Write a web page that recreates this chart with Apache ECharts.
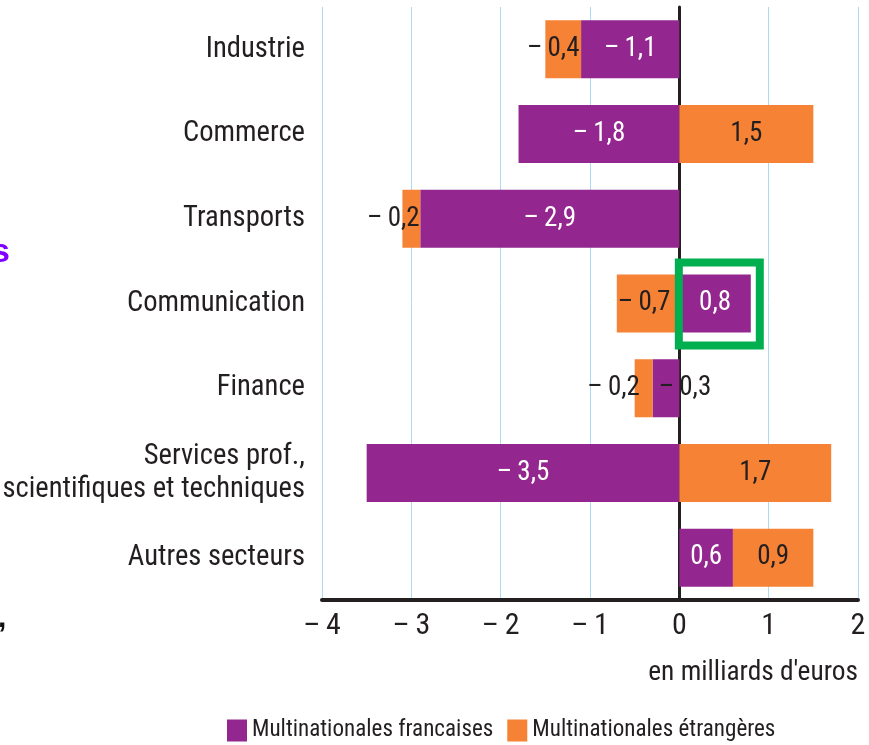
<!DOCTYPE html>
<html><head><meta charset="utf-8">
<script src="https://cdn.jsdelivr.net/npm/echarts@6/dist/echarts.min.js"></script>
<style>html,body{margin:0;padding:0;background:#fff}#c{width:869px;height:745px}</style>
</head><body><div id="c"></div>
<script>
// ---- data ----
const categories = ['Industrie', 'Commerce', 'Transports', 'Communication', 'Finance',
  'Services prof.,\nscientifiques et techniques', 'Autres secteurs'];
const francaises = [-1.1, -1.8, -2.9, 0.8, -0.3, -3.5, 0.6];
const etrangeres = [-0.4, 1.5, -0.2, -0.7, -0.2, 1.7, 0.9];
const xTicks = [-4, -3, -2, -1, 0, 1, 2];
const seriesNames = ['Multinationales francaises', 'Multinationales étrangères'];
const axisUnit = "en milliards d'euros";
const highlighted = 'Communication';

// ---- font selection (pick the narrowest installed family) ----
const ctx = document.createElement('canvas').getContext('2d');
function hasFont(f) {
  const t = 'abcdefghijklmnopqrstuvwxyz0123456789ABCDEFG';
  ctx.font = '72px monospace'; const a = ctx.measureText(t).width;
  ctx.font = '72px "' + f + '", monospace'; const b = ctx.measureText(t).width;
  ctx.font = '72px serif'; const a2 = ctx.measureText(t).width;
  ctx.font = '72px "' + f + '", serif'; const b2 = ctx.measureText(t).width;
  return a !== b || a2 !== b2;
}
const candidates = ['Noto Sans ExtraCondensed', 'Roboto Condensed', 'Noto Sans Condensed',
  'Open Sans Condensed', 'Liberation Sans Narrow', 'Arial Narrow', 'DejaVu Sans Condensed', 'Liberation Sans'];
const fam = candidates.find(hasFont) || 'sans-serif';
const FONT = '"' + fam + '", sans-serif';
function fit(text, target) {
  ctx.font = '100px ' + FONT;
  return Math.round(100 * target / ctx.measureText(text).width * 10) / 10;
}
const catSize = Math.min(31, fit('Communication', 178));
const tickSize = Math.min(30, fit('\u2013\u2009' + '4', 35) * 1.15);
const barSize = Math.min(28, fit('0,8', 32));
const legSize = Math.min(27, fit(seriesNames[0], 241));
const unitSize = Math.min(31, fit(axisUnit, 210));

// ---- styles ----
const DARK = '#231f20';
const PURPLE = '#93278f';
const ORANGE = '#f58235';
const GREEN = '#00b050';
const MINUS = '\u2013\u2009';

function fr(v) {
  const s = Math.abs(v).toFixed(1).replace('.', ',');
  return v < 0 ? MINUS + s : s;
}
// label tweaks per category index (styling only)
const frLabelTweak = { 4: { color: DARK, offset: [19, 0] } };
const etLabelTweak = { 0: { offset: [-10, 0] }, 2: { offset: [-18, 0] }, 3: { offset: [-4, 0] }, 4: { offset: [-30, 0] } };
function build(values, tweaks) {
  return values.map((v, i) => tweaks[i] ? { value: v, label: tweaks[i] } : v);
}

const chart = echarts.init(document.getElementById('c'), null, { renderer: 'canvas' });
chart.setOption({
  animation: false,
  backgroundColor: '#fff',
  textStyle: { fontFamily: FONT },
  grid: { left: 322, right: 11, top: 7, bottom: 145, containLabel: false, outerBoundsMode: 'none' },
  title: {
    text: axisUnit, right: 6, top: 672 - unitSize * 0.62,
    textStyle: { fontFamily: FONT, fontSize: unitSize, fontWeight: 'normal', color: DARK }
  },
  legend: {
    data: seriesNames, left: 222, top: 714, icon: 'rect', orient: 'horizontal',
    itemWidth: 20, itemHeight: 22, itemGap: 14, width: 640,
    textStyle: { fontFamily: FONT, fontSize: legSize, color: DARK }
  },
  xAxis: {
    type: 'value', min: xTicks[0], max: xTicks[xTicks.length - 1], interval: 1,
    axisLine: { show: true, lineStyle: { color: DARK, width: 4 } },
    axisTick: { show: false },
    splitLine: { show: true, lineStyle: { color: '#b0daf2', width: 1 } },
    axisLabel: {
      fontFamily: FONT, fontSize: tickSize, color: DARK, margin: 11,
      formatter: v => v < 0 ? MINUS + Math.abs(v) : String(v)
    }
  },
  yAxis: {
    type: 'category', data: categories, inverse: true,
    axisLine: { show: true, onZero: true, lineStyle: { color: DARK, width: 3 } },
    axisTick: { show: false },
    splitLine: { show: false },
    axisLabel: { fontFamily: FONT, fontSize: catSize, color: DARK, margin: 17, lineHeight: 33 }
  },
  series: [
    {
      name: seriesNames[0], type: 'bar', stack: 'total', barWidth: 58,
      itemStyle: { color: PURPLE },
      label: { show: true, position: 'inside', color: '#fff', fontFamily: FONT, fontSize: barSize,
        formatter: p => fr(p.value) },
      data: build(francaises, frLabelTweak), z: 2
    },
    {
      name: seriesNames[1], type: 'bar', stack: 'total', barWidth: 58,
      itemStyle: { color: ORANGE },
      label: { show: true, position: 'inside', color: DARK, fontFamily: FONT, fontSize: barSize,
        formatter: p => fr(p.value) },
      data: build(etrangeres, etLabelTweak), z: 2
    }
  ]
});

// highlight box around the selected French bar (computed from the chart scales)
const hi = categories.indexOf(highlighted);
const p0 = chart.convertToPixel({ gridIndex: 0 }, [0, hi]);
const p1 = chart.convertToPixel({ gridIndex: 0 }, [francaises[hi], hi]);
chart.setOption({
  graphic: [
    { type: 'rect', z: 10,
      shape: { x: p0[0] - 0.5, y: p0[1] - 29 - 12, width: p1[0] - p0[0] + 9.5, height: 58 + 25 },
      style: { fill: 'none', stroke: GREEN, lineWidth: 8 } },
    { type: 'text', left: -9, top: 236, z: 10,
      style: { text: 's', fontFamily: 'Liberation Sans, sans-serif', fontWeight: 'bold', fontSize: 34, fill: '#8000ff' } },
    { type: 'text', left: -2, top: 604, z: 10,
      style: { text: ',', fontFamily: 'Liberation Sans, sans-serif', fontWeight: 'bold', fontSize: 30, fill: '#111' } }
  ]
});
</script>
</body></html>
